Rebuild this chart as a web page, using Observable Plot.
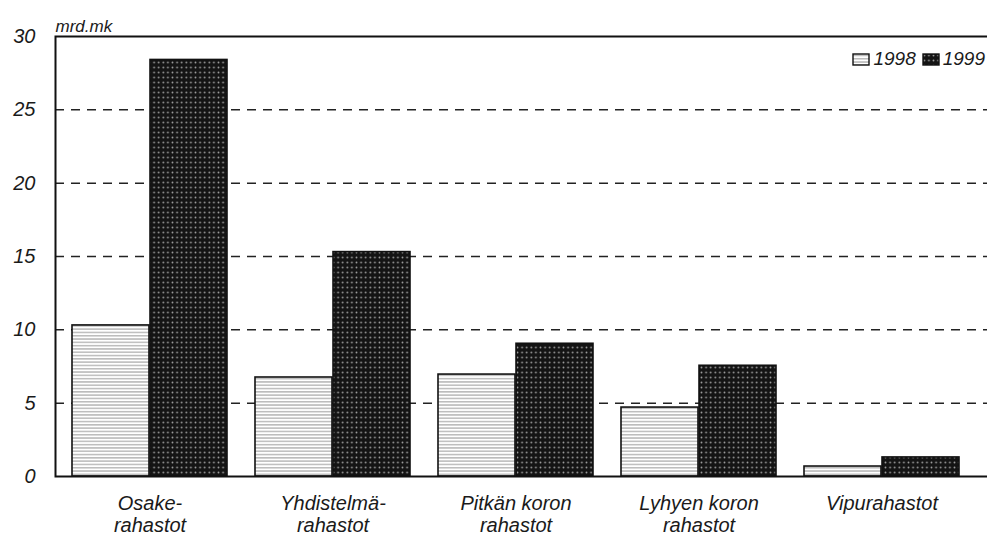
<!DOCTYPE html>
<html><head><meta charset="utf-8">
<script src="https://cdn.jsdelivr.net/npm/d3@7"></script>
<script src="https://cdn.jsdelivr.net/npm/@observablehq/plot@0.6"></script>
<style>
body{margin:0;background:#fff;}
#chart{position:relative;width:987px;height:536px;font-family:"Liberation Sans",Arial,sans-serif;}
#legend{position:absolute;top:48px;right:2px;display:flex;align-items:center;font-style:italic;font-size:19px;color:#1a1a1a;}
#legend svg{margin-right:3px;}
#legend span{margin-right:6px;}
</style>
</head><body><div id="chart"></div>
<script>
const categories = ["Osake", "Yhdistelmä", "Pitkän koron", "Lyhyen koron", "Vipu"];
const categoryLabels = ["Osake-\nrahastot", "Yhdistelmä-\nrahastot", "Pitkän koron\nrahastot", "Lyhyen koron\nrahastot", "Vipurahastot"];
const values1998 = [10.3, 6.75, 6.95, 4.7, 0.68];
const values1999 = [28.4, 15.3, 9.05, 7.55, 1.3];
const seriesNames = ["1998", "1999"];
const yTicks = [0, 5, 10, 15, 20, 25, 30];
const gridTicks = [5, 10, 15, 20, 25];
const unitLabel = "mrd.mk";

const W = 987, H = 536;
const xOpts = {type: "band", domain: categories, paddingInner: 0.152, paddingOuter: 0.1087, align: 0.375};
const ml = 55, mr = 0, mt = 36, mb = 60;
const xs = Plot.scale({x: {...xOpts, range: [ml, W - mr]}});
const half = xs.bandwidth / 2;

const d1998 = categories.map((c, i) => ({cat: c, value: values1998[i]}));
const d1999 = categories.map((c, i) => ({cat: c, value: values1999[i]}));
const labels = categories.map((c, i) => ({cat: c, label: categoryLabels[i]}));

const svg = Plot.plot({
  width: W, height: H,
  marginLeft: ml, marginRight: mr, marginTop: mt, marginBottom: mb,
  style: {fontFamily: '"Liberation Sans", Arial, sans-serif', fontStyle: "italic", fontSize: "20px", color: "#1a1a1a", background: "#fff"},
  x: {...xOpts, axis: null},
  y: {domain: [0, 30], ticks: yTicks, tickSize: 0, tickPadding: 20, label: null},
  marks: [
    Plot.ruleY(gridTicks, {y: d => d, stroke: "#222", strokeWidth: 1.5, strokeDasharray: "9,7"}),
    Plot.barY(d1998, {x: "cat", y: "value", fill: "url(#p1998)", stroke: "#111", strokeWidth: 1.6, insetRight: half}),
    Plot.barY(d1999, {x: "cat", y: "value", fill: "url(#p1999)", stroke: "#111", strokeWidth: 1.6, insetLeft: half}),
    Plot.frame({stroke: "#111", strokeWidth: 2, insetRight: -4}),
    Plot.text(labels, {x: "cat", text: "label", frameAnchor: "bottom", lineAnchor: "top", dy: 18, fontSize: 20, lineHeight: 1.1, fill: "#1a1a1a"}),
    Plot.text([unitLabel], {frameAnchor: "top-left", text: d => d, textAnchor: "start", dy: -17, fontSize: 17, fill: "#1a1a1a", letterSpacing: "-0.5px"})
  ]
});

const defs = d3.select(svg).insert("defs", ":first-child");
const p1 = defs.append("pattern").attr("id", "p1998").attr("patternUnits", "userSpaceOnUse").attr("width", 4).attr("height", 3.3);
p1.append("rect").attr("width", 4).attr("height", 3.3).attr("fill", "#fff");
p1.append("rect").attr("y", 2).attr("width", 4).attr("height", 0.9).attr("fill", "#8c8c8c");
const p2 = defs.append("pattern").attr("id", "p1999").attr("patternUnits", "userSpaceOnUse").attr("width", 4.6).attr("height", 5);
p2.append("rect").attr("width", 4.6).attr("height", 5).attr("fill", "#141414");
p2.append("circle").attr("cx", 2.3).attr("cy", 2.5).attr("r", 0.9).attr("fill", "#9a9a9a");

const chart = document.getElementById("chart");
chart.appendChild(svg);

const legend = document.createElement("div");
legend.id = "legend";
seriesNames.forEach((name, i) => {
  const ns = "http://www.w3.org/2000/svg";
  const s = document.createElementNS(ns, "svg");
  s.setAttribute("width", 18); s.setAttribute("height", 13);
  const r = document.createElementNS(ns, "rect");
  r.setAttribute("x", 1); r.setAttribute("y", 1); r.setAttribute("width", 16); r.setAttribute("height", 11);
  r.setAttribute("fill", i === 0 ? "url(#p1998)" : "url(#p1999)");
  r.setAttribute("stroke", "#111"); r.setAttribute("stroke-width", 1.4);
  s.appendChild(r);
  legend.appendChild(s);
  const t = document.createElement("span");
  t.textContent = name;
  if (i === seriesNames.length - 1) t.style.marginRight = "0";
  legend.appendChild(t);
});
chart.appendChild(legend);
</script>
</body></html>
